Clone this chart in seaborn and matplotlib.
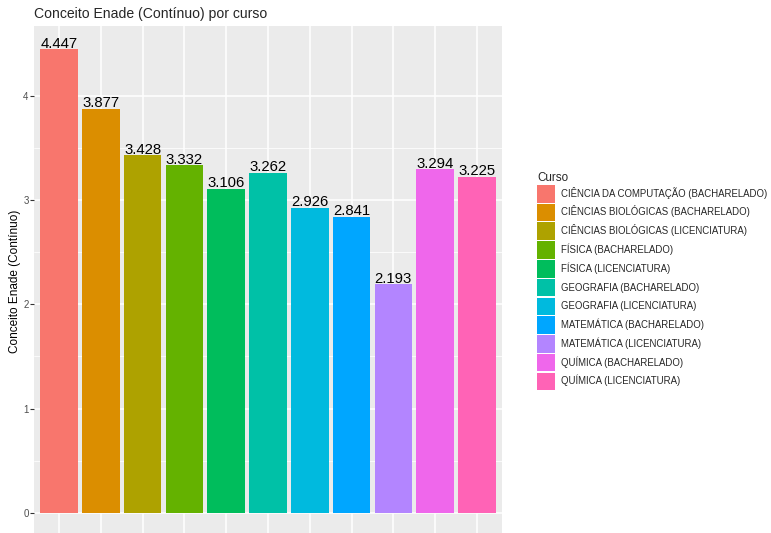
import seaborn as sns
import matplotlib.pyplot as plt
import pandas as pd

import warnings
warnings.filterwarnings('ignore')

cursos = ["CIÊNCIA DA COMPUTAÇÃO (BACHARELADO)",
          "CIÊNCIAS BIOLÓGICAS (BACHARELADO)",
          "CIÊNCIAS BIOLÓGICAS (LICENCIATURA)",
          "FÍSICA (BACHARELADO)",
          "FÍSICA (LICENCIATURA)",
          "GEOGRAFIA (BACHARELADO)",
          "GEOGRAFIA (LICENCIATURA)",
          "MATEMÁTICA (BACHARELADO)",
          "MATEMÁTICA (LICENCIATURA)",
          "QUÍMICA (BACHARELADO)",
          "QUÍMICA (LICENCIATURA)"]
conceito = [4.447, 3.877, 3.428, 3.332, 3.106, 3.262, 2.926, 2.841, 2.193, 3.294, 3.225]
cores = ["#F8766D", "#DB8E00", "#AEA200", "#64B200", "#00BD5C", "#00C1A7",
         "#00BADE", "#00A6FF", "#B385FF", "#EF67EB", "#FF63B6"]

df = pd.DataFrame({"curso": cursos, "conceito": conceito})

sns.set_style("darkgrid", {"axes.facecolor": "#EBEBEB", "grid.color": "white"})
plt.rcParams['font.family'] = ['Liberation Sans', 'DejaVu Sans']

fig = plt.figure(figsize=(7.71, 5.33), dpi=100)
ax = fig.add_axes([34/771, -3/533, 468/771, 510/533])

sns.barplot(data=df, x="curso", y="conceito", hue="curso", palette=cores,
            width=0.9, dodge=False, ax=ax, saturation=1, legend=True, linewidth=0)

# rótulos dos valores
for i, v in enumerate(conceito):
    ax.annotate(f"{v:.3f}", (i, v), xytext=(0, 1.2), textcoords='offset points',
                ha='center', va='baseline', fontsize=10.7, color='black')

ymax = max(conceito)
ax.set_ylim(-0.05*ymax, ymax*1.05)
ax.set_xlim(-0.6, len(cursos) - 0.4)
ax.set_yticks([0, 1, 2, 3, 4])
ax.set_yticks([0.5, 1.5, 2.5, 3.5], minor=True)
ax.grid(which='major', color='white', linewidth=1.1)
ax.grid(which='minor', axis='y', color='white', linewidth=0.55)
ax.set_axisbelow(True)
ax.tick_params(axis='y', which='major', length=2.9, width=0.8, color='#333333',
               labelsize=7, labelcolor='#4D4D4D', pad=1, left=True)
ax.tick_params(axis='y', which='minor', length=0)
ax.tick_params(axis='x', length=0, labelbottom=False)
for s in ax.spines.values():
    s.set_visible(False)

ax.set_xlabel("")
ax.set_ylabel("Conceito Enade (Contínuo)", fontsize=8.5, color='black', labelpad=1.5)
ax.set_title("Conceito Enade (Contínuo) por curso", loc='left', fontsize=10.1, pad=6)

sns.move_legend(ax, 'center left', bbox_to_anchor=(1.075, 0.5), frameon=False,
                title='Curso', fontsize=6.9, title_fontsize=8.4, borderpad=0,
                borderaxespad=0, handlelength=1.85, handleheight=2.45,
                labelspacing=0.12, handletextpad=0.6, alignment='left')

fig.savefig("out.png", dpi=100)
